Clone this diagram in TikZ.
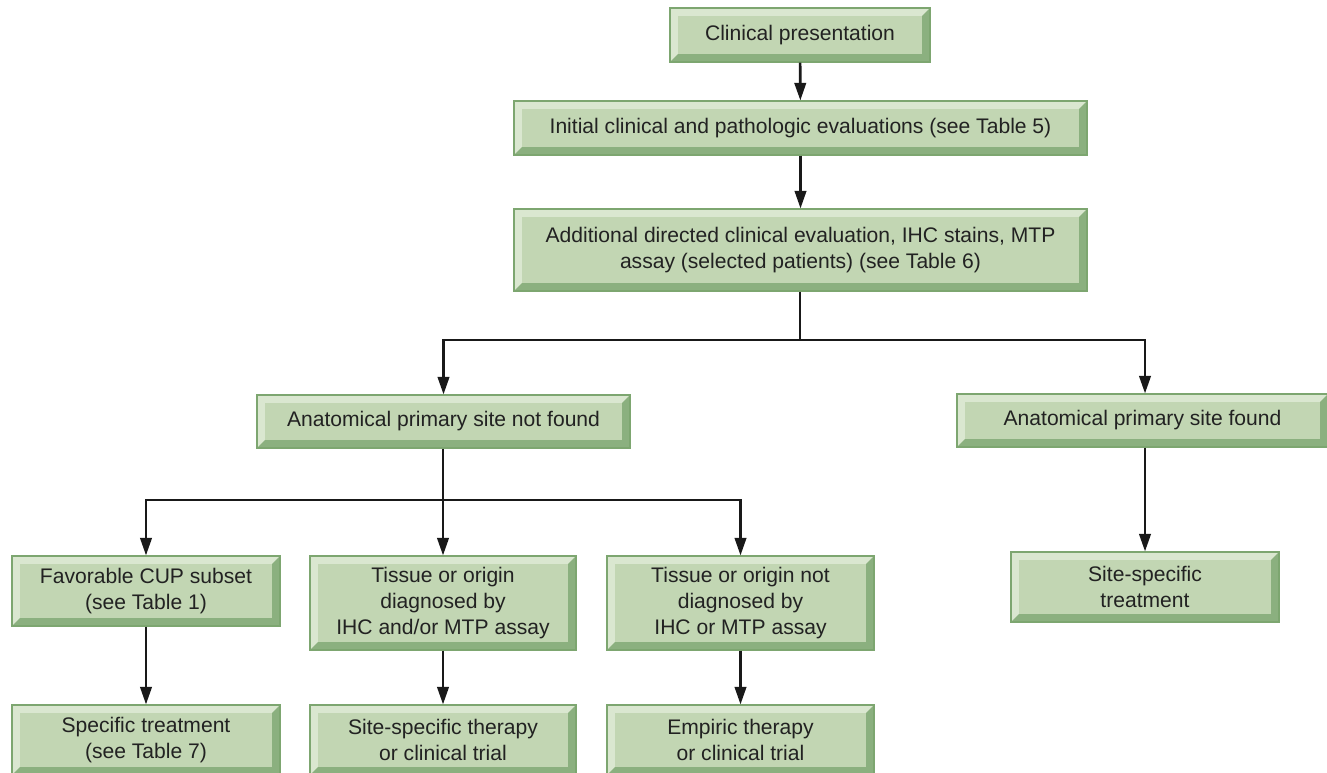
\documentclass[tikz,border=0pt]{standalone}
\usepackage{fontspec}
\setmainfont{Liberation Sans}
\usepackage{tikz}
\usetikzlibrary{arrows.meta}

\definecolor{boxface}{HTML}{C2D6B3}
\definecolor{boxlite}{HTML}{DAE7D0}
\definecolor{boxdark}{HTML}{8BB07F}
\definecolor{boxedge}{HTML}{7DA670}
\definecolor{boxtext}{HTML}{222222}

\begin{document}
\begin{tikzpicture}[
        bevbox/.style={draw=boxedge, fill=boxface, line width=0.6pt, align=center,
            text=boxtext, inner sep=0pt, font=\fontsize{12}{14.6}\selectfont,
            path picture={
                \fill[boxlite] (path picture bounding box.south west) -- (path picture bounding box.north west)
                    -- (path picture bounding box.north east) -- ([shift={(-\bev,-\bev)}]path picture bounding box.north east)
                    -- ([shift={(\bev,-\bev)}]path picture bounding box.north west) -- ([shift={(\bev,\bev)}]path picture bounding box.south west) -- cycle;
                \fill[boxdark] (path picture bounding box.south west) -- (path picture bounding box.south east)
                    -- (path picture bounding box.north east) -- ([shift={(-\bev,-\bev)}]path picture bounding box.north east)
                    -- ([shift={(-\bev,\bev)}]path picture bounding box.south east) -- ([shift={(\bev,\bev)}]path picture bounding box.south west) -- cycle;
                \fill[boxface] ([shift={(\bev,\bev)}]path picture bounding box.south west) rectangle ([shift={(-\bev,-\bev)}]path picture bounding box.north east);
            }},
        arr/.style={-{Triangle[length=10pt,width=6.5pt]}, line width=1.5pt, draw=black!90}
    ]
        \def\bev{0.16}
        \useasboundingbox (0,0) rectangle (26.54,-15.44);
        % top chain
        \node[bevbox, minimum width=5.2cm, minimum height=1.08cm] (clin) at (16.0,-0.70) {Clinical presentation};
        \node[bevbox, minimum width=11.46cm, minimum height=1.08cm] (init) at (16.01,-2.56) {Initial clinical and pathologic evaluations (see Table 5)};
        \node[bevbox, minimum width=11.46cm, minimum height=1.64cm] (addl) at (16.01,-5.0) {Additional directed clinical evaluation, IHC stains, MTP\\assay (selected patients) (see Table 6)};
        % second level
        \node[bevbox, minimum width=7.46cm, minimum height=1.06cm] (notfound) at (8.87,-8.43) {Anatomical primary site not found};
        \node[bevbox, minimum width=7.42cm, minimum height=1.06cm] (found) at (22.85,-8.41) {Anatomical primary site found};
        % third level
        \node[bevbox, minimum width=5.36cm, minimum height=1.40cm] (fav) at (2.92,-11.82) {Favorable CUP subset\\(see Table 1)};
        \node[bevbox, minimum width=5.32cm, minimum height=1.88cm] (diag) at (8.86,-12.06) {Tissue or origin\\diagnosed by\\IHC and/or MTP assay};
        \node[bevbox, minimum width=5.34cm, minimum height=1.88cm] (nodiag) at (14.81,-12.06) {Tissue or origin not\\diagnosed by\\IHC or MTP assay};
        \node[bevbox, minimum width=5.36cm, minimum height=1.40cm] (sitetx) at (22.9,-11.74) {Site-specific\\treatment};
        % bottom row
        \node[bevbox, minimum width=5.36cm, minimum height=1.40cm] (spectx) at (2.92,-14.8) {Specific treatment\\(see Table 7)};
        \node[bevbox, minimum width=5.32cm, minimum height=1.40cm] (sitether) at (8.86,-14.8) {Site-specific therapy\\or clinical trial};
        \node[bevbox, minimum width=5.34cm, minimum height=1.40cm] (empir) at (14.81,-14.8) {Empiric therapy\\or clinical trial};
        % connectors
        \draw[arr] (clin) -- (init);
        \draw[arr] (init) -- (addl);
        \coordinate (j1) at (16.0,-6.8);
        \draw[arr] (addl.south -| j1) -- (j1) -| (notfound.north);
        \draw[arr] (j1) -| (sitetx |- found.north);
        \coordinate (j2) at (8.86,-10.0);
        \draw[arr] (notfound.south -| j2) -- (j2) -| (fav.north);
        \draw[arr] (j2) -- (diag.north);
        \draw[arr] (j2) -| (nodiag.north);
        \draw[arr] (fav) -- (spectx);
        \draw[arr] (diag) -- (sitether);
        \draw[arr] (nodiag) -- (empir);
        \draw[arr] (sitetx |- found.south) -- (sitetx);
    \end{tikzpicture}
\end{document}
